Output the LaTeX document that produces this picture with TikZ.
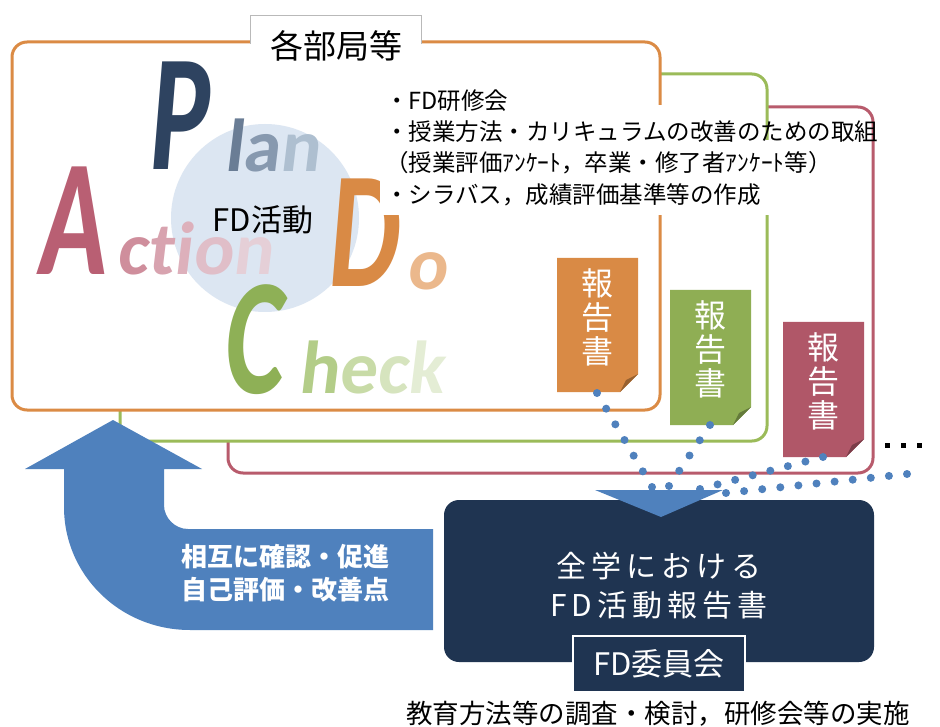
\documentclass[tikz,border=0pt]{standalone}
\usepackage{fontspec}
\setmainfont{Noto Sans CJK JP}
\newfontfamily\pdcafont{Carlito}[FakeSlant=0.12]
\usetikzlibrary{calc}
\definecolor{orng}{HTML}{DB8B45}
\definecolor{grn}{HTML}{9BBB59}
\definecolor{rd}{HTML}{B85B6C}
\definecolor{blu}{HTML}{4F81BD}
\definecolor{navy}{HTML}{1F3451}
\definecolor{circ}{HTML}{DCE6F2}
\definecolor{docO}{HTML}{D98A45}
\definecolor{docG}{HTML}{8FAE54}
\definecolor{docR}{HTML}{B05768}
\definecolor{pP}{HTML}{2E4360}\definecolor{pl}{HTML}{6A7D95}\definecolor{pa}{HTML}{8799AF}\definecolor{pn}{HTML}{AEBFD0}
\definecolor{aA}{HTML}{B95F73}\definecolor{ac}{HTML}{CF8E9C}\definecolor{at}{HTML}{D8A3AF}\definecolor{ai}{HTML}{DDB0BB}\definecolor{ao}{HTML}{E0BEC8}\definecolor{an}{HTML}{E5CFD7}
\definecolor{dD}{HTML}{D98A45}\definecolor{do}{HTML}{EBB88C}
\definecolor{cC}{HTML}{8EB056}\definecolor{ch}{HTML}{B3CD88}\definecolor{ce}{HTML}{C8DBA7}\definecolor{cc}{HTML}{D6E4BE}\definecolor{ck}{HTML}{E4EDD5}
\begin{document}
\begin{tikzpicture}[x=1pt,y=-1pt,
  unitbox/.style={line width=3pt, rounded corners=15pt, fill=white},
  bul/.style={anchor=west, inner sep=0pt, font=\fontsize{23.5}{28}\selectfont},
  pdcacap/.style={anchor=base west, inner sep=0pt, font=\pdcafont\bfseries\fontsize{166}{166}\selectfont},
  pdcalow/.style={anchor=base west, inner sep=0pt, font=\pdcafont\bfseries\fontsize{75}{75}\selectfont},
  doctext/.style={align=center, text=white, inner sep=0pt, font=\fontsize{32}{34}\selectfont},
  arrtext/.style={inner sep=0pt, text=white, font=\bfseries\fontsize{26}{26}\selectfont},
  bdot/.style={fill=blu}]
\useasboundingbox (0,0) rectangle (940,727);
\fill[white] (0,0) rectangle (940,727);

% unit boxes
\draw[unitbox, draw=rd] (228,107) rectangle (873,473);
\draw[unitbox, draw=grn] (120,74) rectangle (767,441);
\draw[unitbox, draw=orng] (12,42) rectangle (660,410);

% label box
\fill[white] (250,15) rectangle (421,45);
\draw[gray!55, line width=0.8pt] (250,44) -- (250,15) -- (421,15) -- (421,44);
\node[inner sep=0pt, font=\fontsize{33}{33}\selectfont] (lbl) at (336,46) {各部局等};

% circle
\node[circle, fill=circ, minimum size=188pt, inner sep=0pt] (cyc) at (265,218) {};

% PDCA letters
\node[pdcacap, text=pP] (P) at (147,170) {\scalebox{0.68}[1]{P}};
\node[pdcalow] (lan) at (224,172) {\color{pl}l\color{pa}a\color{pn}n};
\node[pdcacap, text=aA] (A) at (36,275) {\scalebox{0.68}[1]{A}};
\node[pdcalow] (ction) at (116,275) {\color{ac}c\color{at}t\color{ai}i\color{ao}o\color{an}n};
\node[pdcacap, text=dD] (D) at (326,287) {\scalebox{0.68}[1]{D}};
\node[pdcalow] (o) at (406,290) {\color{do}o};
\node[pdcacap, text=cC] (C) at (222,393) {\scalebox{0.68}[1]{C}};
\node[pdcalow] (heck) at (298,393) {\color{ch}h\color{ce}e\color{cc}c\color{ck}k};

\node[inner sep=0pt, font=\fontsize{31}{31}\selectfont] (fd) at (263,220) {FD活動};

% bullet list
\fill[white] (380,105) rectangle (665,215);
\fill[white] (665,140) rectangle (775,215);
\node[bul] (b1) at (385,101) {・FD研修会};
\node[bul] (b2) at (385,132) {・授業方法・カリキュラムの改善のための取組};
\node[bul] (b3) at (385,163) {（授業評価ｱﾝｹｰﾄ，卒業・修了者ｱﾝｹｰﾄ等）};
\node[bul] (b4) at (385,195) {・シラバス，成績評価基準等の作成};

% report documents
\fill[docO] (557,258) -- (638,258) -- (638,374) -- (620,392) -- (557,392) -- cycle;
\fill[docO!70!black] (620,392) -- (638,374) -- (626,380) -- cycle;
\node[doctext] (r1) at (597.5,317) {報\\告\\書};
\fill[docG] (670,290) -- (751,290) -- (751,407) -- (733,425) -- (670,425) -- cycle;
\fill[docG!70!black] (733,425) -- (751,407) -- (739,413) -- cycle;
\node[doctext] (r2) at (710.5,349) {報\\告\\書};
\fill[docR] (783,322) -- (864,322) -- (864,439) -- (846,457) -- (783,457) -- cycle;
\fill[docR!70!black] (846,457) -- (864,439) -- (852,445) -- cycle;
\node[doctext] (r3) at (823.5,381) {報\\告\\書};

% ellipsis squares
\fill (885,443) rectangle (890,448);
\fill (901,443) rectangle (906,448);
\fill (917,443) rectangle (922,448);

% big feedback arrow
\fill[blu] (113,420) -- (202,469) -- (164,469) -- (164,505)
  .. controls (164,518) and (175,529) .. (188,529) -- (433,529) -- (433,630) -- (190,630)
  .. controls (120,630) and (64,575) .. (64,507) -- (64,469) -- (25,469) -- cycle;
\node[arrtext] (fb1) at (285,557) {相互に確認・促進};
\node[arrtext] (fb2) at (285,590) {自己評価・改善点};

% central report box
\node[fill=navy, rounded corners=15pt, minimum width=430pt, minimum height=162pt, inner sep=0pt] (rep) at (659,581) {};
\node[inner sep=0pt, text=white, font=\fontsize{30}{30}\selectfont] (rep1) at (659,566) {全\,学\,に\,お\,け\,る};
\node[inner sep=0pt, text=white, font=\fontsize{30}{30}\selectfont] (rep2) at (659,605) {F\,D\,活\,動\,報\,告\,書};
\fill[blu] (595,490) -- (723,490) -- (661,517) -- cycle;

% dotted connectors
\coordinate (d1s) at (597,393); \coordinate (d1e) at (652,487);
\coordinate (d2s) at (710,425); \coordinate (d2e) at (669,486);
\coordinate (d3s) at (823,457); \coordinate (d3e) at (700,489);
\coordinate (d4s) at (907,474); \coordinate (d4e) at (726,493);
\foreach \i in {0,...,6} \fill[bdot] ($(d1s)!\i/6!(d1e)$) circle (4);
\foreach \i in {0,...,4} \fill[bdot] ($(d2s)!\i/4!(d2e)$) circle (4);
\foreach \i in {0,...,7} \fill[bdot] ($(d3s)!\i/7!(d3e)$) circle (4);
\foreach \i in {0,...,10} \fill[bdot] ($(d4s)!\i/10!(d4e)$) circle (4);

% FD committee
\node[fill=navy, draw=white, line width=2pt, minimum width=172pt, minimum height=56pt, inner sep=0pt, text=white, font=\fontsize{31}{31}\selectfont] (fdc) at (659,664) {FD委員会};
\node[inner sep=0pt, font=\fontsize{26.5}{26.5}\selectfont] (bt) at (658,714) {教育方法等の調査・検討，研修会等の実施};
\end{tikzpicture}
\end{document}
